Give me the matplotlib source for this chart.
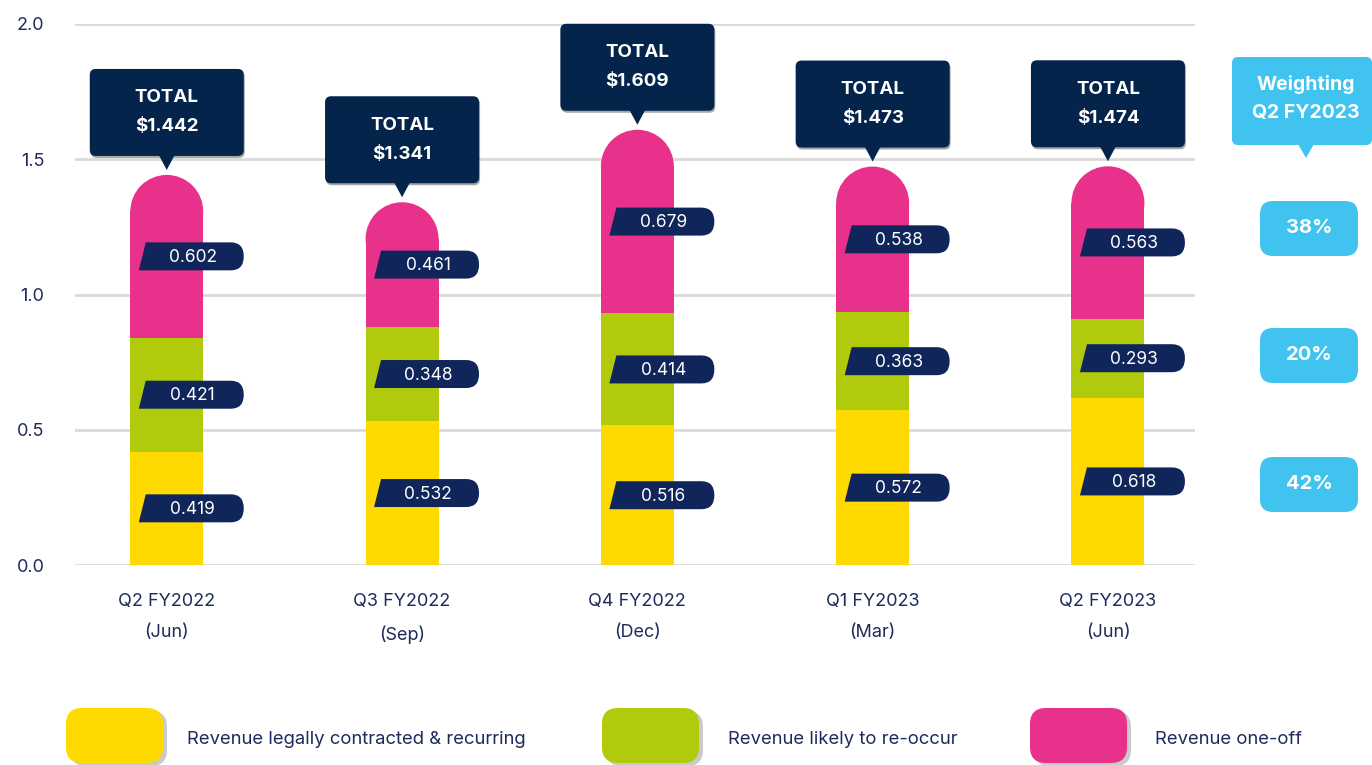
import matplotlib
matplotlib.use("Agg")
import matplotlib.pyplot as plt
import matplotlib.patches as mpatches
import matplotlib.transforms as mtransforms
from matplotlib.path import Path
import numpy as np

plt.rcParams['font.family'] = ['Inter', 'DejaVu Sans']

# ---------------- data ----------------
quarters = ["Q2 FY2022\n(Jun)", "Q3 FY2022\n(Sep)", "Q4 FY2022\n(Dec)",
            "Q1 FY2023\n(Mar)", "Q2 FY2023\n(Jun)"]
contracted = [0.419, 0.532, 0.516, 0.572, 0.618]
likely = [0.421, 0.348, 0.414, 0.363, 0.293]
one_off = [0.602, 0.461, 0.679, 0.538, 0.563]
totals = [1.442, 1.341, 1.609, 1.473, 1.474]

legend_labels = ["Revenue legally contracted & recurring",
                 "Revenue likely to re-occur", "Revenue one-off"]

# ---------------- style ----------------
YELLOW = "#FFDA00"
GREEN = "#B1CB0C"
PINK = "#E8318A"
NAVY = "#04244B"
TAG = "#10265A"
SKY = "#41C3EF"
TXT = "#1E2B5C"
colors = [YELLOW, GREEN, PINK]

W, H = 1372, 765
fig = plt.figure(figsize=(W / 100, H / 100), dpi=100)
ax = fig.add_axes([75 / W, 1 - 565 / H, (1195 - 75) / W, (565 - 24) / H])

x = np.arange(len(quarters))
bw = 0.31
ax.set_xlim(-0.39, 4.37)
ax.set_ylim(0, 2.0)
ax.set_autoscale_on(False)

# semicircle cap radius, in y data units
px_per_x = ax.bbox.width / 4.76
px_per_y = ax.bbox.height / 2.0
r_px = bw * px_per_x / 2
ry = r_px / px_per_y

c = np.array(contracted)
l = np.array(likely)
o = np.array(one_off)

ax.bar(x, c, bw, color=YELLOW, zorder=2)
ax.bar(x, l, bw, bottom=c, color=GREEN, zorder=2)
ax.bar(x, o - ry, bw, bottom=c + l, color=PINK, zorder=2)
for xi, top in zip(x, c + l + o):
    ax.add_patch(mpatches.Ellipse((xi, top - ry), bw, 2 * ry, color=PINK,
                                  zorder=2, linewidth=0))

# axes cosmetics
ax.set_yticks([0, 0.5, 1.0, 1.5, 2.0])
ax.set_yticklabels(["0.0", "0.5", "1.0", "1.5", "2.0"])
ax.set_xticks(x)
ax.set_xticklabels(quarters, linespacing=2.1)
ax.tick_params(axis='y', length=0, pad=22, labelsize=13, labelcolor=TXT)
ax.tick_params(axis='x', length=0, pad=20, labelsize=13, labelcolor=TXT)
ax.yaxis.grid(True, color="#DADADA", linewidth=2)
ax.set_axisbelow(True)
for s in ax.spines.values():
    s.set_visible(False)


def at(xd, yd):
    # pixel offsets anchored on a data point
    return mtransforms.Affine2D() + mtransforms.ScaledTranslation(xd, yd, ax.transData)


# value tags: slanted left edge, rounded right end
tag_verts = [(-28, -14), (-21, 14), (64, 14), (77, 14), (77, 0),
             (77, -14), (64, -14), (-28, -14)]
tag_codes = [Path.MOVETO, Path.LINETO, Path.LINETO, Path.CURVE3, Path.CURVE3,
             Path.CURVE3, Path.CURVE3, Path.CLOSEPOLY]
tag_path = Path(tag_verts, tag_codes)

bottoms = [np.zeros(len(x)), c, c + l]
for series, base in zip([c, l, o], bottoms):
    for xi, v, b in zip(x, series, base):
        ym = b + v / 2
        ax.add_patch(mpatches.PathPatch(tag_path, transform=at(xi, ym),
                                        facecolor=TAG, edgecolor='none',
                                        zorder=5, clip_on=False))
        ax.annotate(f"{v:.3f}", (xi, ym), xytext=(26, -1),
                    textcoords='offset pixels', ha='center', va='center',
                    color='white', fontsize=12.5, zorder=6)

# TOTAL callouts above each bar
for xi, top, t in zip(x, c + l + o, totals):
    tr = at(xi, top)
    shadow = mpatches.FancyBboxPatch((-76, 17), 154, 87,
                                     boxstyle="round,pad=0,rounding_size=6",
                                     transform=tr, facecolor='black', alpha=0.35,
                                     edgecolor='none', zorder=6, clip_on=False)
    box = mpatches.FancyBboxPatch((-77, 19), 154, 87,
                                  boxstyle="round,pad=0,rounding_size=6",
                                  transform=tr, facecolor=NAVY,
                                  edgecolor='none', zorder=7, clip_on=False)
    tip = mpatches.Polygon([(-8, 20), (0, 5), (8, 20)], closed=True,
                           transform=tr, facecolor=NAVY, edgecolor='none',
                           zorder=7, clip_on=False)
    ax.add_patch(shadow)
    ax.add_patch(box)
    ax.add_patch(tip)
    ax.annotate("TOTAL", (xi, top), xytext=(0, 77), textcoords='offset pixels',
                ha='center', va='center', color='white', fontsize=13.5,
                fontweight='bold', zorder=8)
    ax.annotate(f"${t:.3f}", (xi, top), xytext=(0, 48), textcoords='offset pixels',
                ha='center', va='center', color='white', fontsize=13.5,
                fontweight='bold', zorder=8)

# weighting panel on the right (pixel coordinates, origin top-left)
pix = mtransforms.Affine2D().scale(1, -1).translate(0, H)

fig.add_artist(mpatches.FancyBboxPatch((1232, 57), 140, 88,
                                       boxstyle="round,pad=0,rounding_size=6",
                                       transform=pix, facecolor=SKY, edgecolor='none'))
fig.add_artist(mpatches.Polygon([(1298, 144), (1306, 158), (1314, 144)],
                                transform=pix, facecolor=SKY, edgecolor='none'))
fig.text(1306, 84, "Weighting", transform=pix, ha='center', va='center',
         color='white', fontsize=14, fontweight='bold')
fig.text(1306, 113, "Q2 FY2023", transform=pix, ha='center', va='center',
         color='white', fontsize=14, fontweight='bold')

last = np.array([contracted[-1], likely[-1], one_off[-1]])
weights = np.round(last / last.sum() * 100).astype(int)
weight_y = [484, 355, 228]
for w, yc in zip(weights, weight_y):
    fig.add_artist(mpatches.FancyBboxPatch((1260, yc - 27), 98, 55,
                                           boxstyle="round,pad=0,rounding_size=13",
                                           transform=pix, facecolor=SKY,
                                           edgecolor='none'))
    fig.text(1309, yc, f"{w}%", transform=pix, ha='center', va='center',
             color='white', fontsize=14.5, fontweight='bold')

# legend along the bottom
sw_x = [66, 602, 1030]
lab_x = [187, 728, 1155]
for sx, tx, col, lab in zip(sw_x, lab_x, colors, legend_labels):
    fig.add_artist(mpatches.FancyBboxPatch((sx + 4, 711), 97, 55,
                                           boxstyle="round,pad=0,rounding_size=16",
                                           transform=pix, facecolor='#8A8A8A',
                                           alpha=0.45, edgecolor='none'))
    fig.add_artist(mpatches.FancyBboxPatch((sx, 708), 97, 55,
                                           boxstyle="round,pad=0,rounding_size=16",
                                           transform=pix, facecolor=col,
                                           edgecolor='none'))
    fig.text(tx, 739, lab, transform=pix, ha='left', va='center',
             color=TXT, fontsize=13.3)

fig.savefig("out.png", dpi=100, facecolor='white')
